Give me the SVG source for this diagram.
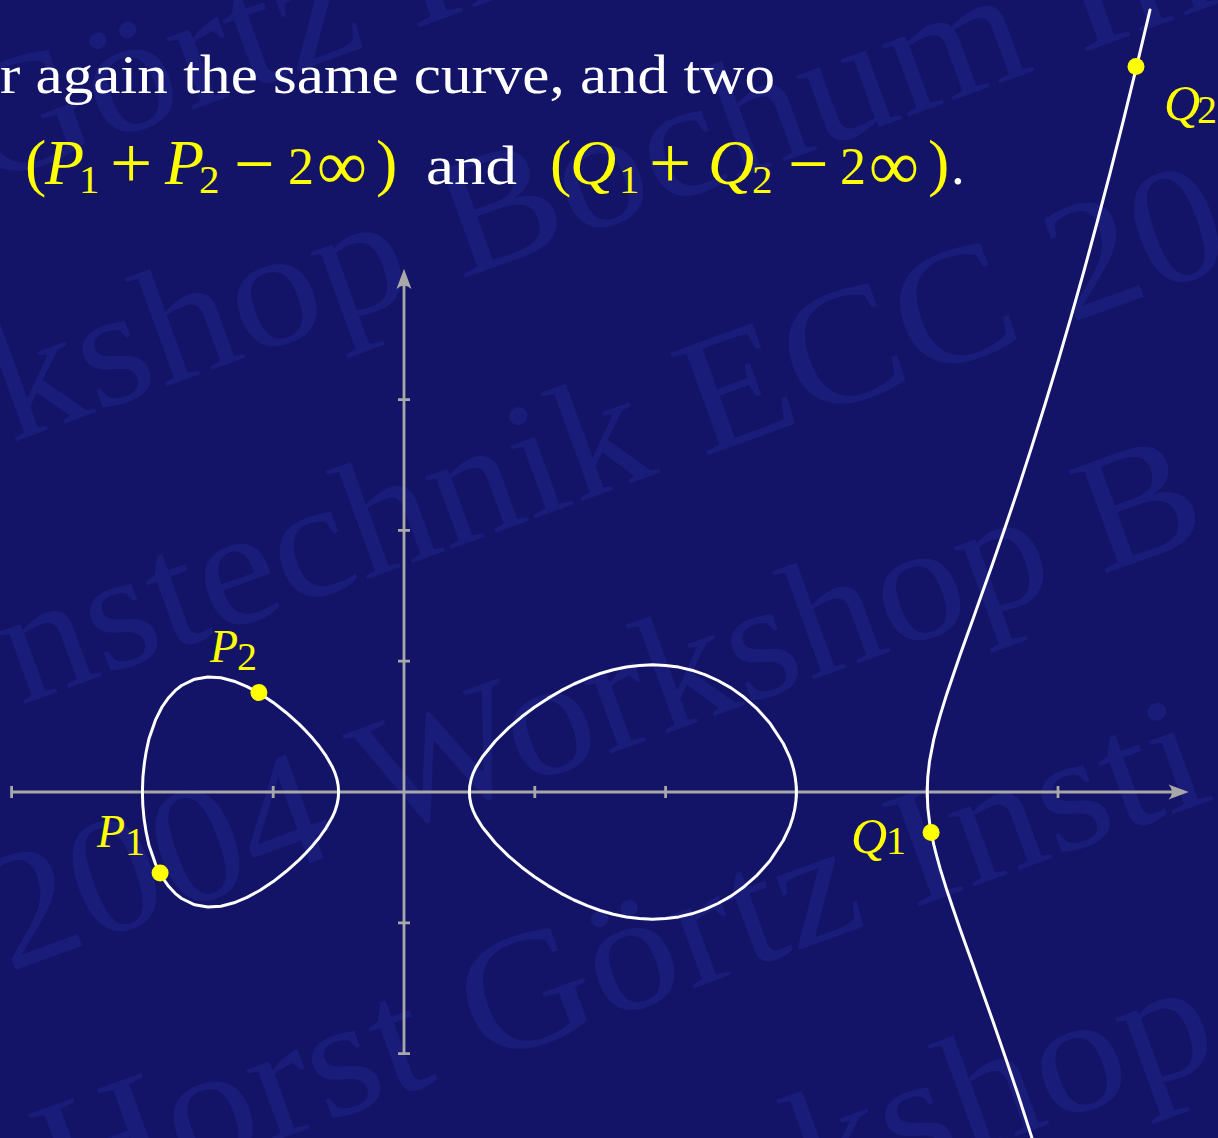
<svg xmlns="http://www.w3.org/2000/svg" width="1218" height="1138" viewBox="0 0 1218 1138">
<style>
.wm{font-family:"Liberation Serif","Times New Roman",serif;font-size:167px;fill:#1a1c7a}
.txt{font-family:"Liberation Serif","Times New Roman",serif;fill:#ffffff}
.mth{font-family:"Liberation Serif","Times New Roman",serif;fill:#ffff00}
.it{font-style:italic}
.axis{stroke:#a8a8a8;stroke-width:2.8;fill:none}
.arr{fill:#a8a8a8;stroke:none}
.crv{stroke:#ffffff;stroke-width:3;fill:none;stroke-linejoin:round;stroke-linecap:round}
.pt{fill:#ffff00}
</style>
<rect x="0" y="0" width="1218" height="1138" fill="#131467"/>
<g id="watermark" transform="rotate(-20)">
<text class="wm" x="-83" y="169" textLength="612" lengthAdjust="spacingAndGlyphs">Görtz In</text>
<text class="wm" x="-141" y="420" textLength="1288" lengthAdjust="spacingAndGlyphs">kshop Bochum In</text>
<text class="wm" x="-222" y="670" textLength="1294" lengthAdjust="spacingAndGlyphs">nstechnik ECC 20</text>
<text class="wm" x="-325" y="917" textLength="1281" lengthAdjust="spacingAndGlyphs">2004 Workshop B</text>
<text class="wm" x="-360" y="1166" textLength="1230" lengthAdjust="spacingAndGlyphs">Horst Görtz Insti</text>
<text class="wm" x="350" y="1415" textLength="437" lengthAdjust="spacingAndGlyphs">kshop</text>
</g>
<g id="heading">
<text class="txt" x="0" y="93" font-size="55" textLength="775" lengthAdjust="spacingAndGlyphs">r again the same curve, and two</text>
</g>
<g id="formula">
<text class="mth" x="25" y="184" font-size="64">(</text>
<text class="mth it" x="45" y="184" font-size="64">P</text>
<text class="mth" x="79" y="193" font-size="41">1</text>
<text class="mth" x="110" y="188" font-size="75">+</text>
<text class="mth it" x="165" y="184" font-size="64">P</text>
<text class="mth" x="199" y="193" font-size="41">2</text>
<text class="mth" x="234" y="188" font-size="72">−</text>
<text class="mth" x="288" y="184" font-size="52">2</text>
<text class="mth" x="317" y="189" font-size="70">∞</text>
<text class="mth" x="376" y="184" font-size="64">)</text>
<text class="txt" x="426" y="184" font-size="55" textLength="91" lengthAdjust="spacingAndGlyphs">and</text>
<text class="mth" x="550" y="184" font-size="64">(</text>
<text class="mth it" x="570" y="184" font-size="64">Q</text>
<text class="mth" x="619" y="193" font-size="41">1</text>
<text class="mth" x="649" y="188" font-size="75">+</text>
<text class="mth it" x="708" y="184" font-size="64">Q</text>
<text class="mth" x="752" y="193" font-size="41">2</text>
<text class="mth" x="788" y="188" font-size="72">−</text>
<text class="mth" x="840" y="184" font-size="52">2</text>
<text class="mth" x="869" y="189" font-size="70">∞</text>
<text class="mth" x="928" y="184" font-size="64">)</text>
<text class="txt" x="951" y="184" font-size="55">.</text>
</g>
<g id="axes">
<line class="axis" x1="11.6" y1="792" x2="1180" y2="792"/>
<line class="axis" x1="404" y1="1053.6" x2="404" y2="278"/>
<path class="arr" d="M1188.8,792 L1168.5,784.5 Q1175.5,792 1168.5,799.5 Z"/>
<path class="arr" d="M404,268.8 L396.5,289 Q404,282 411.5,289 Z"/>
<path class="axis" d="M11.6,786v12 M142.4,786v12 M273.2,786v12 M534.8,786v12 M665.6,786v12 M796.4,786v12 M927.2,786v12 M1058,786v12 M398,1053.6h12 M398,922.8h12 M398,661.2h12 M398,530.4h12 M398,399.6h12"/>
</g>
<g id="curve">
<path id="left-oval" class="crv" d="M142.4,792 Q142.4,765.55 148.9,739.1 L155.5,719.9 L162,707 L168.6,697.7 L175.1,690.7 L181.6,685.5 L194.7,679.2 L207.8,677 L220.9,677.8 L234,681.2 L247,686.6 L260.1,693.7 L273.2,702.4 L286.3,712.7 L299.4,724.4 L305.9,731 L312.4,738.1 L319,746 L325.5,755.1 L332.1,766.4 Q338.6,779.2 338.6,792 Q338.6,804.8 332.1,817.6 L325.5,828.9 L319,838 L312.4,845.9 L305.9,853 L299.4,859.6 L286.3,871.3 L273.2,881.6 L260.1,890.3 L247,897.4 L234,902.8 L220.9,906.2 L207.8,907 L194.7,904.8 L181.6,898.5 L175.1,893.3 L168.6,886.3 L162,877 L155.5,864.1 L148.9,844.9 Q142.4,818.45 142.4,792 Z"/>
<path id="middle-oval" class="crv" d="M469.4,792 Q469.4,779.7 475.9,767.4 L482.5,756.7 L495.6,740.7 L508.6,727.9 L521.7,716.8 L534.8,707 L547.9,698.4 L561,690.7 L574,684 L587.1,678.3 L600.2,673.5 L613.3,669.8 L626.4,667 L639.4,665.4 L652.5,664.8 L665.6,665.4 L678.7,667.1 L691.8,670.2 L704.8,674.6 L717.9,680.5 L731,687.9 L744.1,697.3 L757.2,708.9 L770.2,723.6 L783.3,743.5 L789.9,757.7 Q796.4,774.85 796.4,792 Q796.4,809.15 789.9,826.3 L783.3,840.5 L770.2,860.4 L757.2,875.1 L744.1,886.7 L731,896.1 L717.9,903.5 L704.8,909.4 L691.8,913.8 L678.7,916.9 L665.6,918.6 L652.5,919.2 L639.4,918.6 L626.4,917 L613.3,914.2 L600.2,910.5 L587.1,905.7 L574,900 L561,893.3 L547.9,885.6 L534.8,877 L521.7,867.2 L508.6,856.1 L495.6,843.3 L482.5,827.3 L475.9,816.6 Q469.4,804.3 469.4,792 Z"/>
<path id="right-branch" class="crv" d="M1150,10 L1136.5,66.8 L1123.4,120.4 L1110.3,172.1 L1097.2,222 L1084.2,270.2 L1071.1,316.7 L1058,361.6 L1044.9,404.8 L1031.8,446.6 L1018.8,486.9 L1005.7,525.8 L992.6,563.7 L979.5,600.6 L973,618.9 L966.4,637.2 L959.9,655.6 L953.4,674.4 L946.8,693.9 L940.3,714.9 L936.4,729 L933.7,739.6 L929.8,759.7 Q927.2,775.85 927.2,792 Q927.2,808.15 929.8,824.3 L933.7,844.4 L936.4,855 L940.3,869.1 L946.8,890.1 L953.4,909.6 L959.9,928.4 L966.4,946.8 L973,965.1 L979.5,983.4 L992.6,1020.3 L1005.7,1058.2 L1018.8,1097.1 L1031.8,1137.4 L1044.9,1179.2"/>
</g>
<g id="points">
<circle id="P1" class="pt" cx="160.1" cy="873" r="8.5"/>
<circle id="P2" class="pt" cx="258.9" cy="692.5" r="8.5"/>
<circle id="Q1" class="pt" cx="931.1" cy="832.5" r="8.5"/>
<circle id="Q2" class="pt" cx="1136" cy="66.5" r="8.5"/>
</g>
<g id="labels">
<text class="mth it" x="210" y="662" font-size="46">P</text>
<text class="mth" x="237" y="670" font-size="40">2</text>
<text class="mth it" x="97" y="847" font-size="46">P</text>
<text class="mth" x="125" y="855" font-size="40">1</text>
<text class="mth it" x="851" y="853" font-size="50">Q</text>
<text class="mth" x="886" y="854" font-size="40">1</text>
<text class="mth it" x="1164" y="120" font-size="50">Q</text>
<text class="mth" x="1197" y="123" font-size="40">2</text>
</g>
</svg>
